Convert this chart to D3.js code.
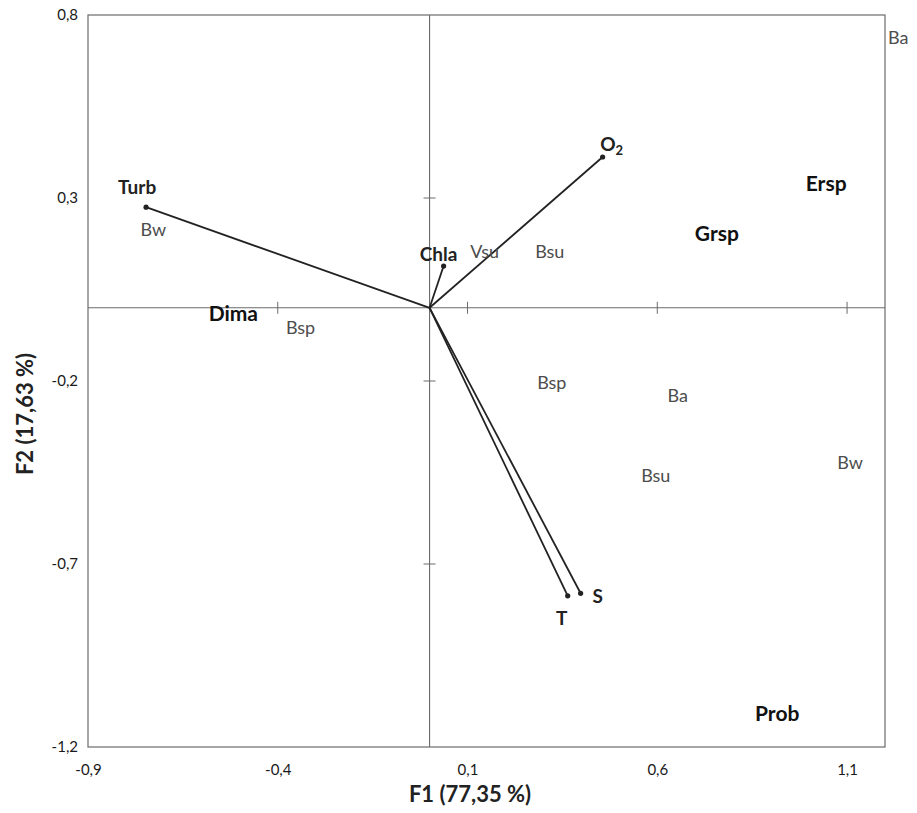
<!DOCTYPE html>
<html><head><meta charset="utf-8">
<script src="https://cdn.jsdelivr.net/npm/d3@7/dist/d3.min.js"></script>
<style>
body{margin:0;background:#fff;}
svg{display:block;font-family:Lato,"Open Sans",sans-serif;}
</style></head>
<body><svg id="c" width="917" height="813"></svg>
<script>
// ---- data ----
const xTicks = [-0.9, -0.4, 0.1, 0.6, 1.1];
const yTicks = [0.8, 0.3, -0.2, -0.7, -1.2];
const xDomain = [-0.9, 1.2];
const yDomain = [-1.2, 0.8];

// environmental variables (vectors)
const varNames = ["Turb", "Chla", "O2", "S", "T"];
const varF1 = [-0.747, 0.037, 0.456, 0.398, 0.364];
const varF2 = [0.275, 0.114, 0.412, -0.780, -0.787];

// sites / seasons (grey labels)
const obsNames = ["Bw", "Vsu", "Bsu", "Bsp", "Bsp", "Ba", "Bsu", "Bw", "Ba"];
const obsF1 = [-0.728, 0.145, 0.317, -0.340, 0.322, 0.654, 0.596, 1.108, 1.235];
const obsF2 = [0.213, 0.152, 0.152, -0.055, -0.205, -0.241, -0.460, -0.424, 0.737];

// species (bold labels)
const spNames = ["Ersp", "Grsp", "Dima", "Prob"];
const spF1 = [1.045, 0.757, -0.517, 0.916];
const spF2 = [0.338, 0.202, -0.017, -1.109];

const xTitle = "F1 (77,35 %)";
const yTitle = "F2 (17,63 %)";

// ---- layout / style ----
const M = {left: 88, right: 885, top: 15, bottom: 747};
const varLabelOffset = {Turb: [-9, -20], Chla: [-5, -12], O2: [9, -13], S: [17, 3], T: [-6, 23]};

const svg = d3.select("#c");
const x = d3.scaleLinear().domain(xDomain).range([M.left, M.right]);
const y = d3.scaleLinear().domain(yDomain).range([M.bottom, M.top]);
const fmt = v => d3.format(".1f")(v).replace(".", ",").replace("−", "-");

// frame
svg.append("rect").attr("x", x(xDomain[0])).attr("y", y(yDomain[1]))
  .attr("width", x(xDomain[1]) - x(xDomain[0])).attr("height", y(yDomain[0]) - y(yDomain[1]))
  .attr("fill", "none").attr("stroke", "#6b6b6b").attr("stroke-width", 1.2);

// zero axes
svg.append("line").attr("x1", x(xDomain[0])).attr("x2", x(xDomain[1])).attr("y1", y(0)).attr("y2", y(0))
  .attr("stroke", "#6b6b6b").attr("stroke-width", 1.1);
svg.append("line").attr("x1", x(0)).attr("x2", x(0)).attr("y1", y(yDomain[0])).attr("y2", y(yDomain[1]))
  .attr("stroke", "#6b6b6b").attr("stroke-width", 1.1);

// small ticks on zero axes
svg.append("g").selectAll("line").data(xTicks.filter(t => t > xDomain[0])).join("line")
  .attr("x1", d => x(d)).attr("x2", d => x(d)).attr("y1", y(0) - 6).attr("y2", y(0) + 6)
  .attr("stroke", "#6b6b6b").attr("stroke-width", 1);
svg.append("g").selectAll("line").data(yTicks.filter(t => t > yDomain[0] && t < yDomain[1])).join("line")
  .attr("y1", d => y(d)).attr("y2", d => y(d)).attr("x1", x(0) - 6).attr("x2", x(0) + 6)
  .attr("stroke", "#6b6b6b").attr("stroke-width", 1);

// tick labels via axes
const ax = svg.append("g").attr("transform", `translate(0,${M.bottom})`)
  .call(d3.axisBottom(x).tickValues(xTicks).tickSize(0).tickPadding(17).tickFormat(fmt));
const ay = svg.append("g").attr("transform", `translate(${M.left},0)`)
  .call(d3.axisLeft(y).tickValues(yTicks).tickSize(0).tickPadding(10).tickFormat(fmt));
[ax, ay].forEach(g => {
  g.select(".domain").remove();
  g.selectAll("text").attr("font-size", 15).attr("fill", "#1a1a1a").attr("font-family", "Lato, sans-serif");
});

// axis titles
svg.append("text").attr("x", 470).attr("y", 802)
  .attr("text-anchor", "middle").attr("font-size", 22).attr("font-weight", "bold").attr("fill", "#222").text(xTitle);
svg.append("text").attr("transform", `translate(33,${414}) rotate(-90)`)
  .attr("text-anchor", "middle").attr("font-size", 22).attr("font-weight", "bold").attr("fill", "#222").text(yTitle);

// vectors
const vars = varNames.map((n, i) => ({n, f1: varF1[i], f2: varF2[i]}));
svg.append("g").selectAll("line").data(vars).join("line")
  .attr("x1", x(0)).attr("y1", y(0)).attr("x2", d => x(d.f1)).attr("y2", d => y(d.f2))
  .attr("stroke", "#222").attr("stroke-width", 1.8);
svg.append("g").selectAll("circle").data(vars).join("circle")
  .attr("cx", d => x(d.f1)).attr("cy", d => y(d.f2)).attr("r", 2.6).attr("fill", "#222");
const vl = svg.append("g").selectAll("text").data(vars).join("text")
  .attr("x", d => x(d.f1) + varLabelOffset[d.n][0]).attr("y", d => y(d.f2) + varLabelOffset[d.n][1])
  .attr("dy", "0.35em").attr("text-anchor", "middle")
  .attr("font-size", 19).attr("font-weight", "bold").attr("fill", "#222");
vl.each(function(d) {
  const t = d3.select(this);
  if (d.n === "O2") {
    t.append("tspan").text("O");
    t.append("tspan").attr("font-size", 13).attr("dy", "0.3em").text("2");
  } else t.text(d.n);
});

// observations
const obs = obsNames.map((n, i) => ({n, f1: obsF1[i], f2: obsF2[i]}));
svg.append("g").selectAll("text").data(obs).join("text")
  .attr("x", d => x(d.f1)).attr("y", d => y(d.f2)).attr("dy", "0.35em").attr("text-anchor", "middle")
  .attr("font-size", 18).attr("fill", "#4d4d4d").text(d => d.n);

// species
const sp = spNames.map((n, i) => ({n, f1: spF1[i], f2: spF2[i]}));
svg.append("g").selectAll("text").data(sp).join("text")
  .attr("x", d => x(d.f1)).attr("y", d => y(d.f2)).attr("dy", "0.35em").attr("text-anchor", "middle")
  .attr("font-size", 21).attr("font-weight", "bold").attr("fill", "#111").text(d => d.n);
</script></body></html>
